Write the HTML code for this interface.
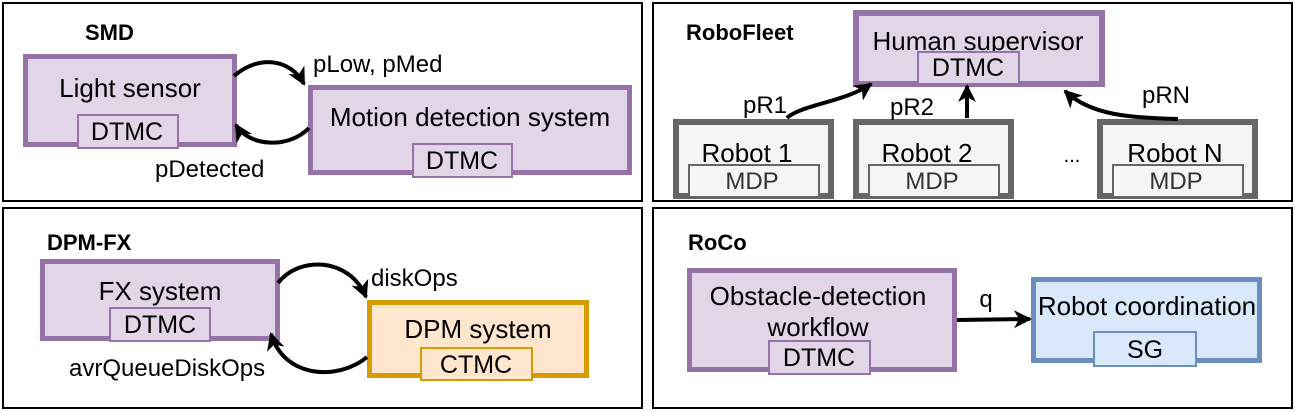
<!DOCTYPE html>
<html><head><meta charset="utf-8"><style>
html,body{margin:0;padding:0;background:#fff;}
svg{display:block;}
text{font-family:"Liberation Sans",sans-serif;}
</style></head><body>
<svg width="1295" height="412" viewBox="0 0 1295 412" xmlns="http://www.w3.org/2000/svg">
<defs>
<marker id="ah" markerWidth="20" markerHeight="20" refX="16" refY="9" orient="auto" markerUnits="userSpaceOnUse" viewBox="0 0 20 18">
<path d="M0,0 L18,9 L0,18 L5,9 z" fill="#000"/>
</marker>
</defs>
<g fill="none" stroke="#000" stroke-width="2">
<rect x="3" y="3" width="639" height="198"/>
<rect x="653" y="3" width="639" height="198"/>
<rect x="3" y="208" width="639" height="200"/>
<rect x="653" y="208" width="639" height="200"/>
</g>
<g font-weight="bold" font-size="22" fill="#000">
<text x="85" y="40">SMD</text>
<text x="686" y="40">RoboFleet</text>
<text x="47" y="250">DPM-FX</text>
<text x="688" y="250">RoCo</text>
</g>
<g font-size="26" fill="#000" text-anchor="middle">
<!-- SMD -->
<rect x="25.5" y="56.5" width="209" height="88" fill="#e1d5e7" stroke="#9673a6" stroke-width="5"/>
<text x="130" y="97">Light sensor</text>
<rect x="78" y="115" width="100" height="33" fill="#e1d5e7" stroke="#9673a6" stroke-width="2"/>
<text x="127" y="140" font-size="25">DTMC</text>
<rect x="310.5" y="87.5" width="319" height="85" fill="#e1d5e7" stroke="#9673a6" stroke-width="5"/>
<text x="470" y="126">Motion detection system</text>
<rect x="413" y="144" width="99" height="33" fill="#e1d5e7" stroke="#9673a6" stroke-width="2"/>
<text x="462" y="169" font-size="25">DTMC</text>
<text x="313" y="72" text-anchor="start" font-size="24">pLow, pMed</text>
<text x="155" y="177" text-anchor="start" font-size="24">pDetected</text>
<!-- RoboFleet -->
<rect x="856" y="13" width="246" height="71" fill="#e1d5e7" stroke="#9673a6" stroke-width="6"/>
<text x="978" y="50">Human supervisor</text>
<rect x="918" y="52" width="101" height="32" fill="#e1d5e7" stroke="#9673a6" stroke-width="2"/>
<text x="968" y="76" font-size="25">DTMC</text>
<rect x="676" y="122" width="155" height="74" fill="#f5f5f5" stroke="#666" stroke-width="6"/>
<rect x="689" y="165" width="130" height="32" fill="#f5f5f5" stroke="#666" stroke-width="2"/>
<text x="747" y="162">Robot 1</text>
<text x="752" y="189" font-size="24" fill="#333">MDP</text>
<rect x="856" y="122" width="155" height="74" fill="#f5f5f5" stroke="#666" stroke-width="6"/>
<rect x="869" y="165" width="130" height="32" fill="#f5f5f5" stroke="#666" stroke-width="2"/>
<text x="927" y="162">Robot 2</text>
<text x="932" y="189" font-size="24" fill="#333">MDP</text>
<rect x="1100" y="122" width="155" height="74" fill="#f5f5f5" stroke="#666" stroke-width="6"/>
<rect x="1113" y="165" width="130" height="32" fill="#f5f5f5" stroke="#666" stroke-width="2"/>
<text x="1175" y="162">Robot N</text>
<text x="1176" y="189" font-size="24" fill="#333">MDP</text>
<text x="1072" y="162" font-size="20">...</text>
<text x="743" y="113" text-anchor="start" font-size="24">pR1</text>
<text x="890" y="115" text-anchor="start" font-size="24">pR2</text>
<text x="1142" y="103" text-anchor="start" font-size="24">pRN</text>
<!-- DPM-FX -->
<rect x="42.5" y="261.5" width="235" height="77" fill="#e1d5e7" stroke="#9673a6" stroke-width="5"/>
<text x="160" y="300">FX system</text>
<rect x="110" y="308" width="100" height="33" fill="#e1d5e7" stroke="#9673a6" stroke-width="2"/>
<text x="160" y="333" font-size="25">DTMC</text>
<rect x="369.5" y="302.5" width="217" height="73" fill="#ffe6cc" stroke="#d79b00" stroke-width="5"/>
<text x="478" y="338">DPM system</text>
<rect x="421" y="348" width="111" height="32" fill="#ffe6cc" stroke="#d79b00" stroke-width="2"/>
<text x="476" y="373" font-size="25">CTMC</text>
<text x="371" y="286" text-anchor="start" font-size="24">diskOps</text>
<text x="69" y="376" text-anchor="start" font-size="24">avrQueueDiskOps</text>
<!-- RoCo -->
<rect x="689.5" y="270.5" width="265" height="99" fill="#e1d5e7" stroke="#9673a6" stroke-width="5"/>
<text x="818" y="305">Obstacle-detection</text>
<text x="818" y="336">workflow</text>
<rect x="769" y="341" width="101" height="33" fill="#e1d5e7" stroke="#9673a6" stroke-width="2"/>
<text x="819" y="366" font-size="25">DTMC</text>
<rect x="1033.5" y="279.5" width="226" height="81" fill="#dae8fc" stroke="#6c8ebf" stroke-width="5"/>
<text x="1147" y="315">Robot coordination</text>
<rect x="1094" y="332" width="102" height="34" fill="#dae8fc" stroke="#6c8ebf" stroke-width="2"/>
<text x="1145" y="358" font-size="25">SG</text>
<text x="986" y="307" font-size="24">q</text>
</g>
<g fill="none" stroke="#000" stroke-width="4" marker-end="url(#ah)">
<path d="M234,76 C258,55 290,58 304,84"/>
<path d="M309,128 C290,148 250,148 236,125"/>
<path d="M787,118 C800,105 845,102 871,84"/>
<path d="M967,118 L967,86"/>
<path d="M1178,119 C1130,118 1090,115 1065,91"/>
<path d="M278,283 C300,255 350,258 366,297"/>
<path d="M367,357 C340,380 285,380 271,334"/>
<path d="M957,320 L1030,319"/>
</g>
</svg>
</body></html>
